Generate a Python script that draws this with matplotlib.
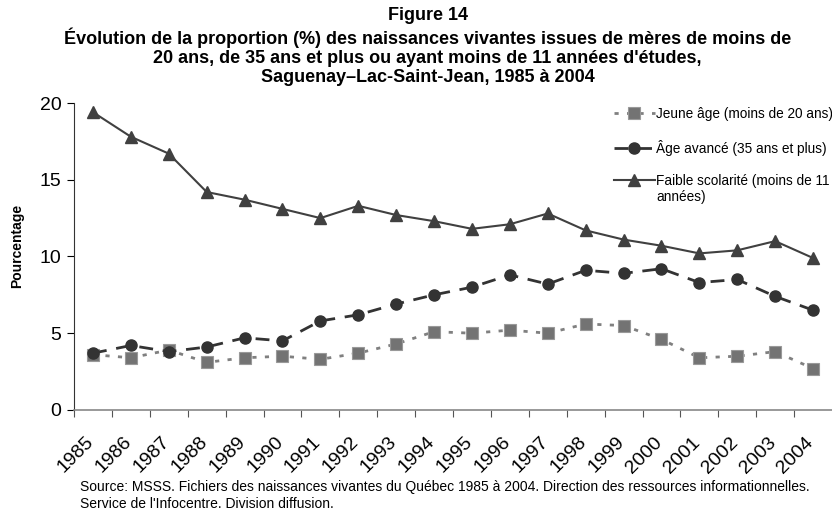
import matplotlib.pyplot as plt
import matplotlib.transforms as mtransforms

plt.rcParams['font.family'] = ['Liberation Sans', 'DejaVu Sans']

annees = [str(a) for a in range(1985, 2005)]

jeune_age = [3.6, 3.4, 3.9, 3.1, 3.4, 3.5, 3.3, 3.7, 4.3, 5.1,
             5.0, 5.2, 5.0, 5.6, 5.5, 4.6, 3.4, 3.5, 3.8, 2.7]
age_avance = [3.7, 4.2, 3.8, 4.1, 4.7, 4.5, 5.8, 6.2, 6.9, 7.5,
              8.0, 8.8, 8.2, 9.1, 8.9, 9.2, 8.3, 8.5, 7.4, 6.5]
faible_scol = [19.4, 17.8, 16.7, 14.2, 13.7, 13.1, 12.5, 13.3, 12.7, 12.3,
               11.8, 12.1, 12.8, 11.7, 11.1, 10.7, 10.2, 10.4, 11.0, 9.9]

fig = plt.figure(figsize=(8.32, 5.15), dpi=100)
ax = fig.add_axes([0.089, 0.204, 0.911, 0.596])

x = list(range(len(annees)))
ax.plot(x, jeune_age, color='#808080', linestyle=(0, (1.5, 3)), linewidth=2,
        marker='s', markersize=8, markerfacecolor='#737373', markeredgecolor='#999999',
        markeredgewidth=0.8, label='Jeune âge (moins de 20 ans)')
ax.plot(x, age_avance, color='#333333', linestyle=(0, (5, 3.5)), linewidth=2,
        marker='o', markersize=8, label='Âge avancé (35 ans et plus)')
ax.plot(x, faible_scol, color='#404040', linestyle='-', linewidth=1.5,
        marker='^', markersize=8.5, label='Faible scolarité (moins de 11')

ax.set_xlim(-0.5, len(annees) - 0.5)
ax.set_ylim(0, 20)
ax.set_yticks([0, 5, 10, 15, 20])
ax.set_xticks([i - 0.5 for i in x], minor=False)
ax.set_xticklabels([])
ax.set_xticks(x, minor=True)
ax.set_xticklabels(annees, minor=True, rotation=45, ha='right', va='top',
                   rotation_mode='anchor', fontsize=14)
ax.tick_params(axis='x', which='minor', length=0, pad=17)
ax.tick_params(axis='x', which='major', length=5, color='#555555')
ax.tick_params(axis='y', labelsize=14, length=5, pad=4)

# decale les etiquettes un peu a gauche du centre de la categorie
decalage = mtransforms.ScaledTranslation(-8 / 100, 0, fig.dpi_scale_trans)
for lbl in ax.get_xticklabels(minor=True):
    lbl.set_transform(lbl.get_transform() + decalage)

for s in ['top', 'right']:
    ax.spines[s].set_visible(False)
ax.spines['bottom'].set_color('#888888')
ax.spines['bottom'].set_linewidth(1.2)
ax.spines['left'].set_color('#333333')

ax.set_ylabel('Pourcentage', fontsize=10, fontweight='bold')
ax.yaxis.set_label_coords(-0.066, 0.534)

leg = ax.legend(loc='upper left', bbox_to_anchor=(0.705, 1.004), frameon=False,
                fontsize=9.8, handlelength=3, handletextpad=0.1, labelspacing=1.35,
                borderaxespad=0)
ax.annotate('années)', xy=(0, 0), xycoords=leg.get_texts()[2],
            xytext=(0, -1.5), textcoords='offset points',
            ha='left', va='top', fontsize=9.8, zorder=10)

fig.text(0.514, 0.986, "Figure 14\nÉvolution de la proportion (%) des naissances vivantes issues de mères de moins de\n"
         "20 ans, de 35 ans et plus ou ayant moins de 11 années d'études,\nSaguenay–Lac-Saint-Jean, 1985 à 2004",
         ha='center', va='top', fontsize=13, fontweight='bold', linespacing=1.17)

fig.text(0.096, 0.068, "Source: MSSS. Fichiers des naissances vivantes du Québec 1985 à 2004. Direction des ressources informationnelles.\n"
         "Service de l'Infocentre. Division diffusion.",
         ha='left', va='top', fontsize=10, linespacing=1.25)

fig.savefig('out.png', dpi=100)
